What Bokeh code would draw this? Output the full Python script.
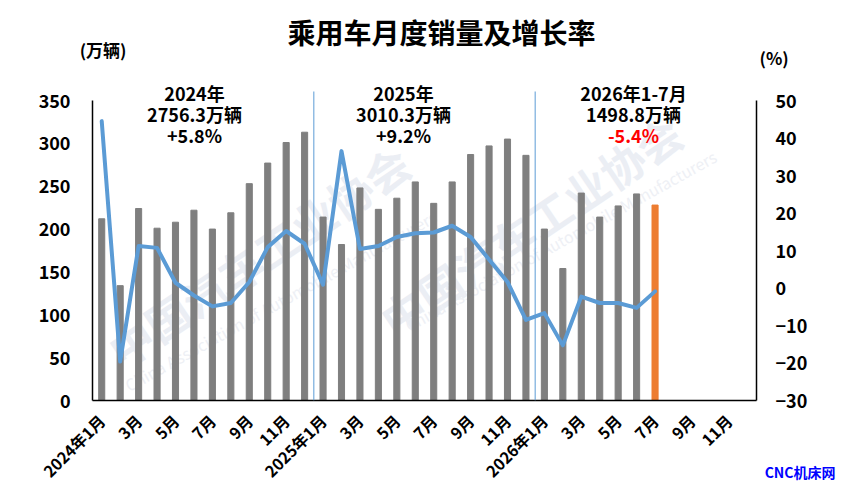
from bokeh.plotting import figure
from bokeh.layouts import column
from bokeh.models import Range1d, LinearAxis, FixedTicker, Label, Arrow, Title
from bokeh.embed import file_html
from bokeh.resources import INLINE

# ---------------- data ----------------
tick_labels = ["2024年1月", "3月", "5月", "7月", "9月", "11月",
               "2025年1月", "3月", "5月", "7月", "9月", "11月",
               "2026年1月", "3月", "5月", "7月", "9月", "11月"]
n_slots = 36  # 2024-01 .. 2026-12

sales = [212, 134, 224, 201, 208, 222, 200, 219, 253, 277, 301, 313,   # 2024
         214, 182, 248, 223, 236, 255, 230, 255, 287, 297, 305, 286,   # 2025
         200, 154, 242, 214, 227, 241, 228]                            # 2026 1-7

growth = [44.5, -19.6, 11.2, 10.7, 1.4, -2.0, -4.9, -4.0, 1.6, 10.9, 15.2, 11.8,
          0.9, 36.5, 10.4, 11.2, 13.6, 14.6, 14.8, 16.6, 13.6, 7.6, 1.6, -8.5,
          -6.7, -15.3, -2.3, -4.0, -4.0, -5.3, -0.9]

year_titles = ["2024年", "2025年", "2026年1-7月"]
year_totals = ["2756.3万辆", "3010.3万辆", "1498.8万辆"]
year_growth = ["+5.8%", "+9.2%", "-5.4%"]

FONT = "Noto Sans CJK SC"
GRAY = "#7F7F7F"
ORANGE = "#ED7D31"
BLUE = "#5B9BD5"

idx = list(range(len(sales)))
bar_colors = [GRAY] * (len(sales) - 1) + [ORANGE]

W = 843
TOP_H = 80
MAIN_H = 501 - TOP_H
FL, FR = 92, 756   # frame left / right (page px)

def style_axis(ax, size="18px"):
    ax.major_tick_line_color = None
    ax.minor_tick_line_color = None
    ax.major_tick_out = 0
    ax.major_tick_in = 0
    ax.major_label_text_font = FONT
    ax.major_label_text_font_style = "bold"
    ax.major_label_text_font_size = size
    ax.major_label_text_color = "black"

# ---------------- header strip (frame aligned with chart: x 92..756) ----------------
top = figure(width=W, height=TOP_H, output_backend="svg", toolbar_location=None,
             x_range=Range1d(FL, FR), y_range=Range1d(TOP_H, 0),
             x_axis_location=None, y_axis_location=None,
             min_border_left=0, min_border_right=0, min_border_top=0, min_border_bottom=0)
top.outline_line_color = None
top.xgrid.grid_line_color = None
top.ygrid.grid_line_color = None

def tlab(fig, x, y, text, size, color="black"):
    fig.add_layout(Label(x=x, y=y, text=text, text_font=FONT, text_font_style="bold",
                         text_font_size=size, text_color=color, text_align="center",
                         text_baseline="middle"))

tlab(top, 441, 31, "乘用车月度销量及增长率", "28px")

unit_l = LinearAxis(ticker=FixedTicker(ticks=[49]), major_label_overrides={49: "(万辆)"})
style_axis(unit_l, "17px")
unit_l.axis_line_color = None
unit_l.major_label_standoff = FL - 126
top.add_layout(unit_l, "left")

unit_r = LinearAxis(ticker=FixedTicker(ticks=[57]), major_label_overrides={57: "(%)"})
style_axis(unit_r, "17px")
unit_r.axis_line_color = None
unit_r.major_label_standoff = 759 - FR
top.add_layout(unit_r, "right")

# ---------------- main chart ----------------
# frame: x 92..756, y 80..400 (page); 0..350 on left axis spans 400..100
y_top = 350 + 20 * 350 / 300
p = figure(width=W, height=MAIN_H, output_backend="svg", toolbar_location=None,
           x_range=Range1d(-0.5, n_slots - 0.5), y_range=Range1d(0, y_top),
           min_border_left=FL, min_border_right=W - FR, min_border_top=0,
           min_border_bottom=MAIN_H - 320)
p.outline_line_color = None
p.xgrid.grid_line_color = None
p.ygrid.grid_line_color = None

p.extra_y_ranges = {"pct": Range1d(-30, 50 + 20 / 3.75)}

def xd(px):
    return (px - FL) / ((FR - FL) / n_slots) - 0.5

def yd(py):
    return (400 - py) / (300 / 350)

# watermark (behind, kept inside the plot frame)
for cx, cy in [(258, 255), (530, 225)]:
    p.add_layout(Label(x=xd(cx), y=yd(cy), text="中国汽车工业协会", angle=34, angle_units="deg",
                       text_font=FONT, text_font_style="bold", text_font_size="44px",
                       text_color="#EBEEF4", text_align="center", text_baseline="middle",
                       level="underlay"))
for cx, cy in [(280, 300), (560, 240)]:
    p.add_layout(Label(x=xd(cx), y=yd(cy), text="China Association of Automobile Manufacturers",
                       angle=29, angle_units="deg",
                       text_font=FONT, text_font_size="16px",
                       text_color="#EEF0F5", text_align="center", text_baseline="middle",
                       level="underlay"))

# bars
p.vbar(x=idx, top=sales, width=0.33, color=bar_colors)

# growth line
p.line(x=idx, y=growth, y_range_name="pct", line_color=BLUE, line_width=4,
       line_join="round", line_cap="round")

# year separators
for xs in [11.5, 23.5]:
    p.add_layout(Arrow(end=None, x_start=xs, y_start=0, x_end=xs, y_end=yd(91),
                       line_color=BLUE, line_width=1))

# axes
p.xaxis.ticker = FixedTicker(ticks=list(range(0, n_slots, 2)))
p.xaxis.major_label_overrides = {i * 2: t for i, t in enumerate(tick_labels)}
p.xaxis.major_label_orientation = 0.785398
style_axis(p.xaxis[0], "16px")
p.xaxis.axis_line_color = "black"
p.xaxis.axis_line_width = 1.5
p.xaxis.major_label_standoff = 17

p.yaxis.ticker = FixedTicker(ticks=list(range(0, 351, 50)))
p.yaxis.bounds = (0, 350)
style_axis(p.yaxis[0])
p.yaxis.axis_line_color = "black"
p.yaxis.axis_line_width = 1.5
p.yaxis.major_label_standoff = 22

ry = LinearAxis(y_range_name="pct", ticker=FixedTicker(ticks=list(range(-30, 51, 10))))
ry.bounds = (-30, 50)
style_axis(ry)
ry.axis_line_color = "black"
ry.axis_line_width = 1.5
ry.major_label_standoff = 19
p.add_layout(ry, "right")

# year annotations (inside the frame)
for cx, t, tot, g in zip([194, 403, 633], year_titles, year_totals, year_growth):
    tlab(p, xd(cx), yd(92), t, "18px")
    tlab(p, xd(cx), yd(113), tot, "18px")
    tlab(p, xd(cx), yd(134), g, "18px", color="#FF0000" if g.startswith("-") else "black")

# source mark, bottom right
p.add_layout(Title(text="CNC机床网", align="right", offset=-(835 - FR), standoff=-64,
                   vertical_align="top", text_font=FONT, text_font_style="bold",
                   text_font_size="14px", text_color="#0000FF"), "below")

layout = column(top, p, spacing=0)
open("out.html", "w").write(file_html(layout, INLINE))
